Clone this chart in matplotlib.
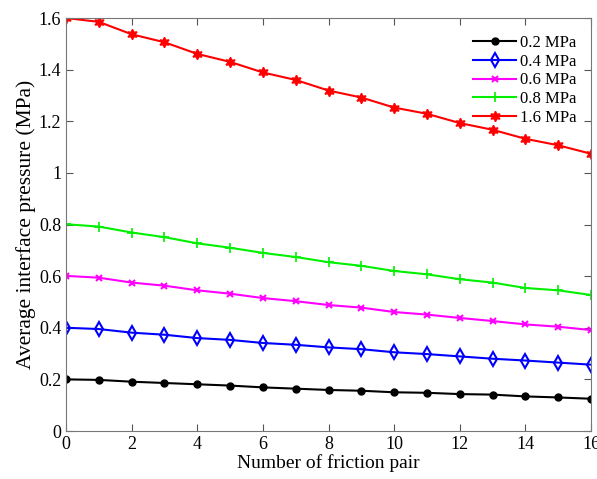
import matplotlib.pyplot as plt

plt.rcParams['font.family'] = ['Liberation Serif', 'DejaVu Serif']

pairs = list(range(17))
p02 = [0.200, 0.198, 0.191, 0.186, 0.181, 0.176, 0.169, 0.164, 0.159,
       0.156, 0.150, 0.148, 0.143, 0.141, 0.134, 0.130, 0.125]
p04 = [0.400, 0.395, 0.381, 0.373, 0.360, 0.353, 0.341, 0.334, 0.324,
       0.317, 0.305, 0.298, 0.289, 0.280, 0.273, 0.265, 0.257]
p06 = [0.601, 0.594, 0.575, 0.563, 0.545, 0.532, 0.515, 0.503, 0.488,
       0.478, 0.461, 0.451, 0.438, 0.426, 0.413, 0.404, 0.391]
p08 = [0.801, 0.792, 0.769, 0.751, 0.727, 0.710, 0.690, 0.674, 0.654,
       0.640, 0.620, 0.607, 0.588, 0.575, 0.554, 0.545, 0.527]
p16 = [1.600, 1.585, 1.537, 1.506, 1.461, 1.430, 1.389, 1.360, 1.319,
       1.292, 1.253, 1.229, 1.193, 1.167, 1.132, 1.107, 1.074]
labels = ['0.2 MPa', '0.4 MPa', '0.6 MPa', '0.8 MPa', '1.6 MPa']

fig = plt.figure(figsize=(5.97, 4.79), dpi=100)
ax = fig.add_axes([0.1106, 0.1002, 0.8794, 0.8622])

ax.plot(pairs, p02, color='black', lw=1.5, marker='o', ms=5, label=labels[0])
ax.plot(pairs, p04, color='blue', lw=1.5, marker='d', ms=7, mfc='none', mew=1.5, label=labels[1])
ax.plot(pairs, p06, color='magenta', lw=1.5, marker='x', ms=4, mew=1.5, label=labels[2])
ax.plot(pairs, p08, color='#00f000', lw=1.5, marker='+', ms=7, mew=1.2, label=labels[3])
ax.plot(pairs, p16, color='red', lw=1.5, marker=(6, 1, 0), ms=7.5, label=labels[4])

ax.set_xlim(0, 16)
ax.set_ylim(0, 1.6)
ax.set_xticks(range(0, 17, 2))
ax.set_yticks([0, 0.2, 0.4, 0.6, 0.8, 1.0, 1.2, 1.4, 1.6])
ax.set_yticklabels(['0', '0.2', '0.4', '0.6', '0.8', '1', '1.2', '1.4', '1.6'])
ax.tick_params(direction='in', top=True, right=True, labelsize=13, length=5, color='#555555')
for s in ax.spines.values():
    s.set_color('#777777')
    s.set_linewidth(0.8)
ax.set_xlabel('Number of friction pair', fontsize=14, labelpad=1)
ax.set_ylabel('Average interface pressure (MPa)', fontsize=15.5, labelpad=2)
ax.legend(loc='upper right', bbox_to_anchor=(1.013, 1.012), frameon=False, fontsize=12,
          handlelength=2.6, handletextpad=0.2, labelspacing=0.17, borderaxespad=0.9)

fig.savefig('out.png', dpi=100)
